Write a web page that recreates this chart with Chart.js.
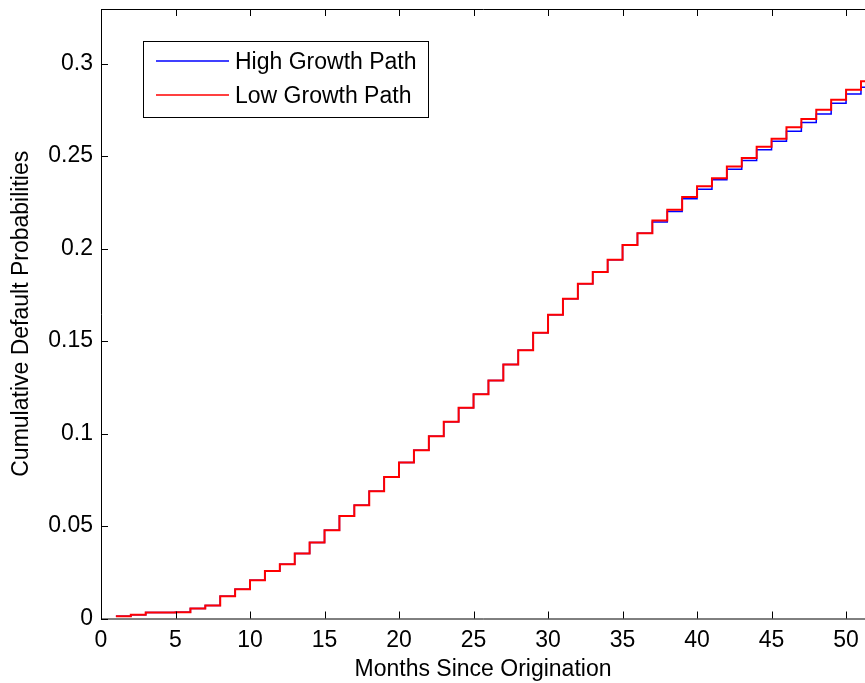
<!DOCTYPE html>
<html>
<head>
<meta charset="utf-8">
<script src="https://cdn.jsdelivr.net/npm/chart.js@4.4.1/dist/chart.umd.min.js"></script>
<style>
  html, body { margin: 0; padding: 0; background: #fff; }
  #wrap { width: 865px; height: 683px; }
</style>
</head>
<body>
<div id="wrap"><canvas id="chart" width="865" height="683"></canvas></div>
<script>
// Months since origination (stairs start at month 1)
const months = [1, 2, 3, 4, 5, 6, 7, 8, 9, 10, 11, 12, 13, 14, 15, 16, 17, 18, 19, 20,
    21, 22, 23, 24, 25, 26, 27, 28, 29, 30, 31, 32, 33, 34, 35, 36, 37, 38, 39, 40,
    41, 42, 43, 44, 45, 46, 47, 48, 49, 50, 51, 52];

// Cumulative default probabilities
const highGrowth = [0.0012, 0.0020, 0.0032, 0.0033, 0.0034, 0.0054, 0.0070, 0.0120, 0.0158, 0.0207,
    0.0257, 0.0293, 0.0351, 0.0411, 0.0477, 0.0554, 0.0612, 0.0688, 0.0765, 0.0843,
    0.0909, 0.0985, 0.1064, 0.1140, 0.1212, 0.1287, 0.1373, 0.1450, 0.1545, 0.1642,
    0.1729, 0.1810, 0.1873, 0.1940, 0.2019, 0.2083, 0.2143, 0.2200, 0.2269, 0.2321,
    0.2372, 0.2429, 0.2476, 0.2534, 0.2580, 0.2634, 0.2681, 0.2728, 0.2786, 0.2836,
    0.2872, 0.2915];
const lowGrowth = [0.0012, 0.0020, 0.0032, 0.0033, 0.0034, 0.0054, 0.0070, 0.0120, 0.0158, 0.0207,
    0.0257, 0.0293, 0.0351, 0.0411, 0.0477, 0.0554, 0.0612, 0.0688, 0.0765, 0.0843,
    0.0909, 0.0985, 0.1064, 0.1140, 0.1212, 0.1287, 0.1373, 0.1450, 0.1545, 0.1642,
    0.1729, 0.1810, 0.1873, 0.1940, 0.2019, 0.2083, 0.2152, 0.2210, 0.2278, 0.2337,
    0.2380, 0.2444, 0.2489, 0.2550, 0.2593, 0.2656, 0.2701, 0.2750, 0.2805, 0.2858,
    0.2904, 0.2950];

const seriesNames = ['High Growth Path', 'Low Growth Path'];
const xTitle = 'Months Since Origination';
const yTitle = 'Cumulative Default Probabilities';

const FONT = "'Liberation Sans', Arial, sans-serif";

function toPoints(values) {
    return months.map((m, i) => ({ x: m, y: values[i] }));
}

// MATLAB style box: axis lines with inward ticks (left, bottom, top)
const matlabAxes = {
    id: 'matlabAxes',
    afterDraw(chart) {
        const { ctx, chartArea: a, scales } = chart;
        const tick = 7;
        ctx.save();
        ctx.strokeStyle = '#000';
        ctx.lineWidth = 1;
        ctx.beginPath();
        ctx.moveTo(a.right + 1, a.top + 0.5);
        ctx.lineTo(a.left + 0.5, a.top + 0.5);
        ctx.lineTo(a.left + 0.5, a.bottom + 0.5);
        ctx.lineTo(a.right + 1, a.bottom + 0.5);
        scales.x.ticks.forEach(t => {
            const px = Math.round(scales.x.getPixelForValue(t.value)) + 0.5;
            ctx.moveTo(px, a.bottom);
            ctx.lineTo(px, a.bottom - tick);
            ctx.moveTo(px, a.top);
            ctx.lineTo(px, a.top + tick);
        });
        scales.y.ticks.forEach(t => {
            const py = Math.round(scales.y.getPixelForValue(t.value)) + 0.5;
            ctx.moveTo(a.left, py);
            ctx.lineTo(a.left + tick, py);
        });
        ctx.stroke();

        // legend box
        const bx = a.left + 42, by = a.top + 32, bw = 285, bh = 76;
        ctx.fillStyle = '#fff';
        ctx.fillRect(bx, by, bw, bh);
        ctx.strokeRect(bx + 0.5, by + 0.5, bw, bh);
        ctx.font = '23px ' + FONT;
        ctx.textBaseline = 'middle';
        chart.data.datasets.forEach(ds => {
            const idx = seriesNames.indexOf(ds.label);
            const ly = by + 20 + idx * 34;
            ctx.strokeStyle = ds.borderColor;
            ctx.lineWidth = 1.5;
            ctx.beginPath();
            ctx.moveTo(bx + 13, ly);
            ctx.lineTo(bx + 86, ly);
            ctx.stroke();
            ctx.fillStyle = '#000';
            ctx.fillText(ds.label, bx + 92, ly + 2);
        });
        ctx.restore();
    }
};

new Chart(document.getElementById('chart').getContext('2d'), {
    type: 'line',
    data: {
        datasets: [{
            label: seriesNames[0],
            data: toPoints(highGrowth),
            borderColor: '#0000ff',
            borderWidth: 1.5,
            pointRadius: 0,
            stepped: true,
            fill: false,
            order: 1
        }, {
            label: seriesNames[1],
            data: toPoints(lowGrowth),
            borderColor: '#ff0000',
            borderWidth: 2,
            pointRadius: 0,
            stepped: true,
            fill: false,
            order: 0
        }]
    },
    options: {
        responsive: false,
        animation: false,
        devicePixelRatio: 1,
        layout: { padding: { top: 9, right: 0, left: 0, bottom: 0 } },
        plugins: {
            legend: { display: false },
            tooltip: { enabled: false }
        },
        scales: {
            x: {
                type: 'linear',
                min: 0,
                max: 51.27,
                border: { display: false },
                grid: { display: false, drawTicks: false },
                ticks: {
                    stepSize: 5,
                    includeBounds: false,
                    padding: 8,
                    maxRotation: 0,
                    color: '#000',
                    font: { family: FONT, size: 23 }
                },
                title: {
                    display: true,
                    text: xTitle,
                    color: '#000',
                    padding: { top: 0, bottom: 0 },
                    font: { family: FONT, size: 23 }
                },
                afterFit(scale) {
                    scale.height = 64.5;
                    scale.paddingLeft = 0;
                    scale.paddingRight = 0;
                }
            },
            y: {
                type: 'linear',
                min: 0,
                max: 0.3295,
                border: { display: false },
                grid: { display: false, drawTicks: false },
                ticks: {
                    stepSize: 0.05,
                    includeBounds: false,
                    padding: 8,
                    color: '#000',
                    font: { family: FONT, size: 23 },
                    callback: v => String(+v.toFixed(2))
                },
                title: {
                    display: true,
                    text: yTitle,
                    color: '#000',
                    padding: { top: 8, bottom: 0 },
                    font: { family: FONT, size: 23 }
                },
                afterFit(scale) {
                    scale.width = 101;
                    scale.paddingTop = 0;
                    scale.paddingBottom = 0;
                }
            }
        }
    },
    plugins: [matlabAxes]
});
</script>
</body>
</html>
